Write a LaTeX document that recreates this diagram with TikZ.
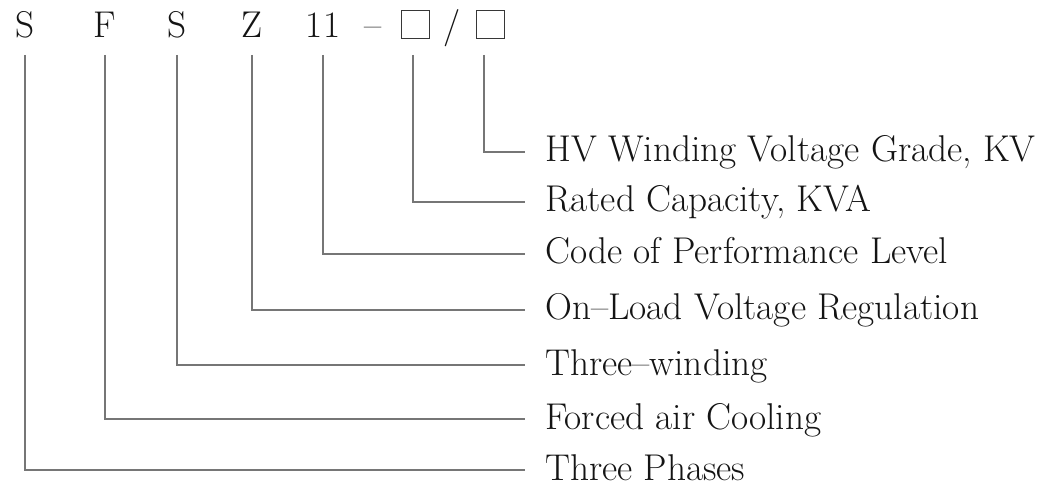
\documentclass[tikz,border=0pt]{standalone}
\usetikzlibrary{positioning}
\definecolor{codeInk}{RGB}{20,20,20}
\definecolor{codeLead}{RGB}{118,118,118}
\tikzset{
  ccode/.style={font=\rmfamily\fontsize{26.5}{31}\selectfont,
    text=codeInk, inner sep=0pt, anchor=base},
  cbox/.style={draw=codeInk!85, line width=.8pt, minimum size=.72cm,
    inner sep=0pt},
  clabel/.style={font=\rmfamily\fontsize{26.5}{31}\selectfont,
    text=codeInk, anchor=west, inner xsep=.5cm, inner ysep=0pt,
    text height=.7cm, text depth=.2cm},
  clead/.style={draw=codeLead, line width=.9pt, line join=miter}
}
\begin{document}
\begin{tikzpicture}[x=.025cm, y=-.025cm]
\path[use as bounding box] (0,0) rectangle (1039,490);

% type code
\node[ccode] (cS) at (25,38) {S};
\node[ccode] (cF) at (105,38) {F};
\node[ccode] (cSw) at (177,38) {S};
\node[ccode] (cZ) at (252,38) {Z};
\node[ccode] (cLev) at (323,38) {11};
\node[ccode] (cDash) at (373,38) {\textendash};
\node[cbox] (bRate) at (415.5,24.5) {};
\node[ccode] (cSlash) at (452,38) {/};
\node[cbox] (bHV) at (490.5,24.5) {};

% meanings
\node[clabel] (lHV) at (525,152) {HV Winding Voltage Grade, KV};
\node[clabel] (lRate) at (525,202) {Rated Capacity, KVA};
\node[clabel] (lLev) at (525,254) {Code of Performance Level};
\node[clabel] (lOLT) at (525,310) {On\textendash Load Voltage Regulation};
\node[clabel] (lThw) at (525,365) {Three\textendash winding};
\node[clabel] (lFan) at (525,419) {Forced air Cooling};
\node[clabel] (lPh) at (525,470) {Three Phases};

% leaders
\coordinate (tS) at (25,55);
\coordinate (tF) at (105,55);
\coordinate (tSw) at (177,55);
\coordinate (tZ) at (252,55);
\coordinate (tLev) at (323,55);
\coordinate (tRate) at (413,55);
\coordinate (tHV) at (484,55);
\draw[clead] (tHV) |- (lHV.west);
\draw[clead] (tRate) |- (lRate.west);
\draw[clead] (tLev) |- (lLev.west);
\draw[clead] (tZ) |- (lOLT.west);
\draw[clead] (tSw) |- (lThw.west);
\draw[clead] (tF) |- (lFan.west);
\draw[clead] (tS) |- (lPh.west);
\end{tikzpicture}
\end{document}
